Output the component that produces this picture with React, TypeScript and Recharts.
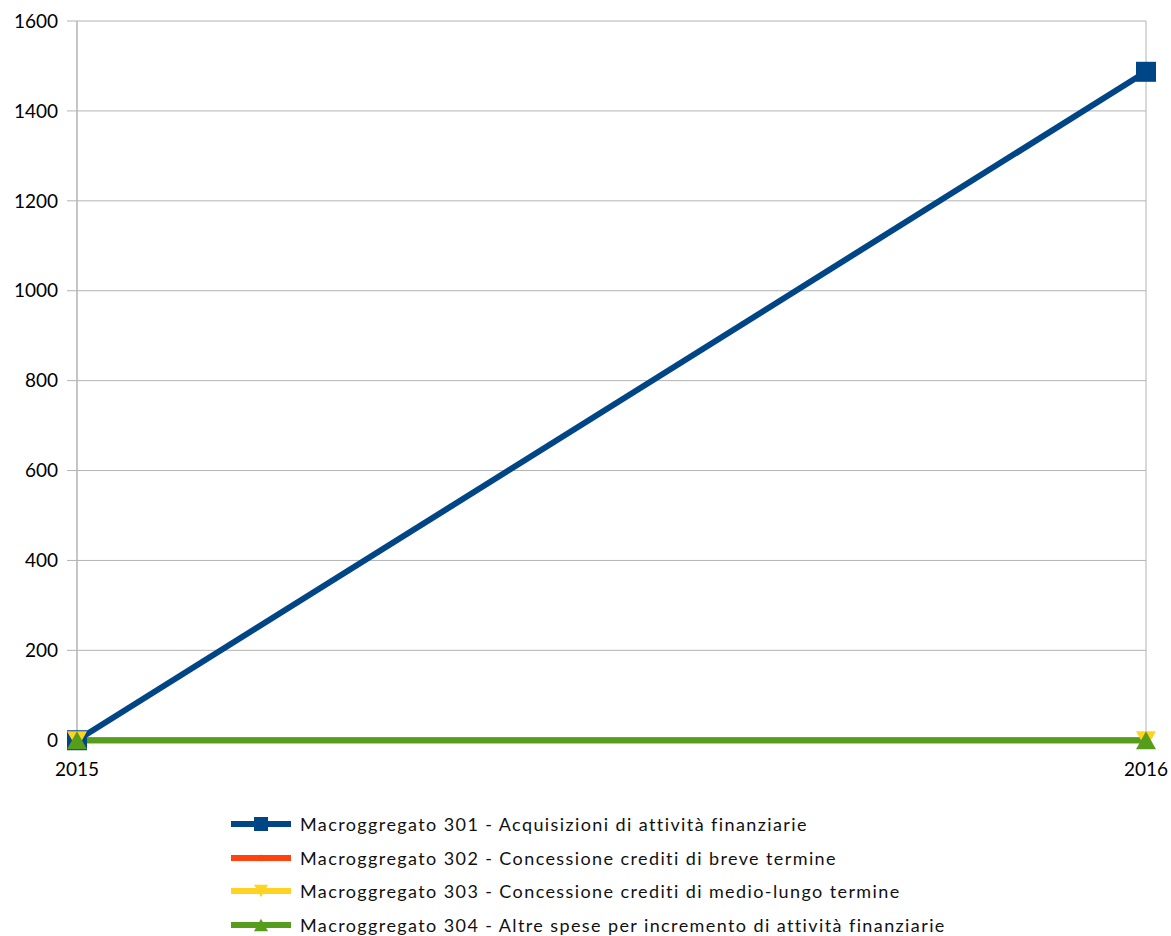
import { LineChart, Line, XAxis, YAxis, CartesianGrid, Legend } from 'recharts';

const years = ['2015', '2016'];
const macro301 = [0, 1487];
const macro302 = [0, 0];
const macro303 = [0, 0];
const macro304 = [0, 0];
const yTicks = [0, 200, 400, 600, 800, 1000, 1200, 1400, 1600];

const series = [
  { key: 'm301', name: 'Macroggregato 301 - Acquisizioni di attività finanziarie', color: '#004586', shape: 'square' },
  { key: 'm302', name: 'Macroggregato 302 - Concessione crediti di breve termine', color: '#ff420e', shape: 'diamond' },
  { key: 'm303', name: 'Macroggregato 303 - Concessione crediti di medio-lungo termine', color: '#ffd320', shape: 'down' },
  { key: 'm304', name: 'Macroggregato 304 - Altre spese per incremento di attività finanziarie', color: '#579d1c', shape: 'up' },
];

const data = years.map((year, i) => ({
  year,
  m301: macro301[i],
  m302: macro302[i],
  m303: macro303[i],
  m304: macro304[i],
}));

const FONT = 'Lato, "Open Sans", sans-serif';

function Marker({ cx, cy, shape, color, small }: any) {
  if (cx == null || cy == null) return null;
  const s = small ? 0.7 : 1;
  if (shape === 'square') {
    const h = 10 * s;
    return <rect x={cx - h} y={cy - h} width={h * 2} height={h * 2} fill={color} />;
  }
  if (shape === 'diamond') {
    const h = 5 * s;
    return <polygon points={`${cx},${cy - h} ${cx + h},${cy} ${cx},${cy + h} ${cx - h},${cy}`} fill={color} />;
  }
  if (shape === 'down') {
    const w = 10 * s;
    const h = 9 * s;
    return <polygon points={`${cx - w},${cy - h} ${cx + w},${cy - h} ${cx},${cy + h}`} fill={color} />;
  }
  const w = 10 * s;
  const h = 9 * s;
  return <polygon points={`${cx - w},${cy + h} ${cx + w},${cy + h} ${cx},${cy - h}`} fill={color} />;
}

function LegendContent() {
  return (
    <div style={{ fontFamily: FONT, fontSize: 18, letterSpacing: 1.4, color: '#111' }}>
      {series.map((s) => (
        <div key={s.key} style={{ display: 'flex', alignItems: 'center', height: 33.7 }}>
          <svg width={68} height={24} style={{ marginRight: 1 }}>
            <line x1={0} y1={12} x2={60} y2={12} stroke={s.color} strokeWidth={6} />
            <Marker cx={30} cy={12} shape={s.shape} color={s.color} small />
          </svg>
          <span style={{ whiteSpace: 'nowrap' }}>{s.name}</span>
        </div>
      ))}
    </div>
  );
}

export default function App() {
  return (
    <div style={{ position: 'absolute', left: 0, top: 0, background: '#fff' }}>
      <LineChart width={1171} height={936} data={data} margin={{ top: 21, right: 25, left: 0, bottom: 0 }}>
        <CartesianGrid stroke="#b3b3b3" strokeWidth={1} />
        <XAxis
          dataKey="year"
          stroke="#b3b3b3"
          axisLine={false}
          tickSize={8}
          tickMargin={14}
          height={61}
          tick={{ fill: '#000', fontSize: 19, fontFamily: FONT }}
        />
        <YAxis
          domain={[0, 1600]}
          ticks={yTicks}
          stroke="#b3b3b3"
          width={77}
          tickSize={10}
          tickMargin={9}
          tick={{ fill: '#000', fontSize: 19, fontFamily: FONT }}
        />
        {series.map((s) => (
          <Line
            key={s.key}
            dataKey={s.key}
            name={s.name}
            stroke={s.color}
            strokeWidth={6}
            isAnimationActive={false}
            dot={(p: any) => <Marker key={`${s.key}-${p.index}`} cx={p.cx} cy={p.cy} shape={s.shape} color={s.color} />}
            activeDot={false}
          />
        ))}
        <Legend
          content={<LegendContent />}
          wrapperStyle={{ left: 231, top: 807, width: 860, bottom: 'auto' }}
        />
      </LineChart>
    </div>
  );
}
